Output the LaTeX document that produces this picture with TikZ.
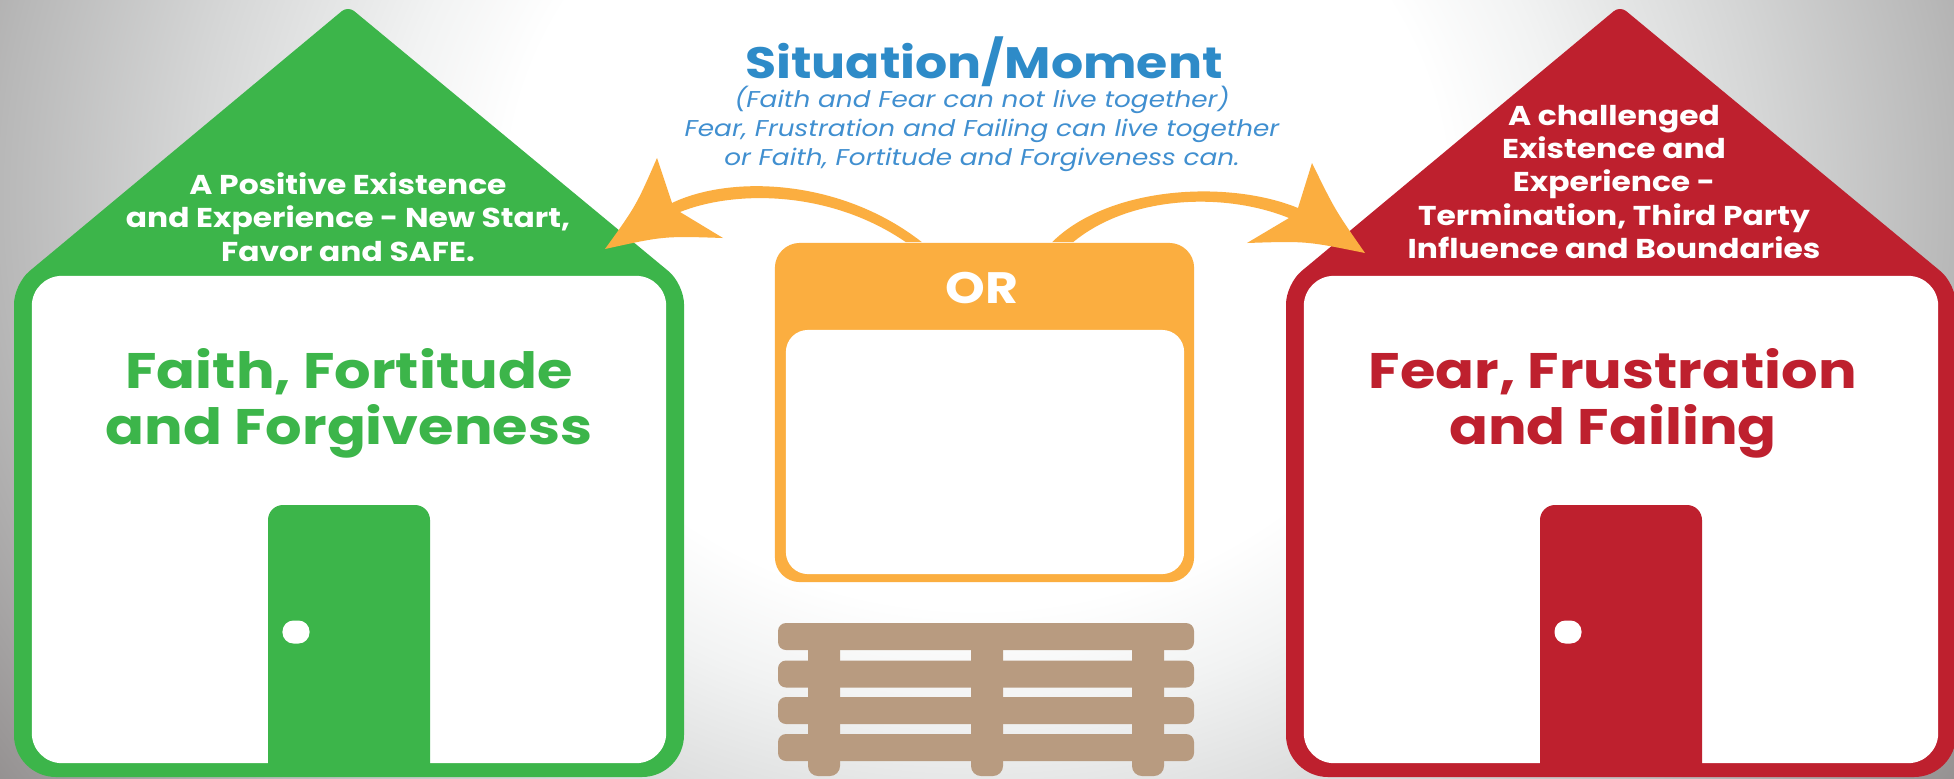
\documentclass[tikz,border=0pt]{standalone}
\usepackage{fontspec}
\setmainfont{Poppins}[FakeStretch=1.15]
\usetikzlibrary{positioning, calc}
\definecolor{hgreen}{HTML}{3CB54A}
\definecolor{hred}{HTML}{BE202E}
\definecolor{horange}{HTML}{FBAE40}
\definecolor{hbrown}{HTML}{B89B80}
\definecolor{hblue}{HTML}{2E8BC8}
\definecolor{hsub}{HTML}{408FD0}
\definecolor{glowa}{HTML}{F2F3F3}
\definecolor{glowb}{HTML}{D6D7D7}
\definecolor{glowc}{HTML}{B8B8B8}
\definecolor{glowd}{HTML}{908C8C}
\pgfdeclareradialshading{bgglow}{\pgfpoint{0bp}{0bp}}{%
  color(0bp)=(white); color(12bp)=(white); color(15bp)=(glowa);
  color(20bp)=(glowb); color(25bp)=(glowc); color(31bp)=(glowd); color(50bp)=(glowd)}
\tikzset{
  roofnote/.style={text=white, align=center, inner sep=0pt, font=\fontsize{7.75}{9.5}\selectfont\bfseries},
  housetitle/.style={align=center, inner sep=0pt, font=\fontsize{14.2}{16}\selectfont\bfseries},
  subnote/.style={text=hsub, align=center, inner sep=0pt, font=\fontsize{6.5}{8.25}\selectfont\itshape},
  panel/.style={rounded corners=0.25cm, inner sep=0pt},
  knobdot/.style={fill=white, rounded corners=0.11cm, inner sep=0pt,
                  minimum width=0.27cm, minimum height=0.23cm},
  plank/.style={fill=hbrown, rounded corners=0.08cm},
}
\begin{document}
\begin{tikzpicture}[x=0.01cm, y=-0.01cm]
  \clip (0,0) rectangle (1954,778);
  % backdrop
  \shade[shading=bgglow] (0,-650) rectangle (1954,1050);
  % houses
  \foreach \hx/\hcol in {0/hgreen, 1272/hred} {
    \begin{scope}[xshift=\hx*0.01cm]
      \fill[\hcol] (348,777) [rounded corners=0.42cm] -- (14,777) -- (14,500)
        [rounded corners=0.2cm] -- (14,284) [rounded corners=0.08cm] -- (348,6)
        [rounded corners=0.2cm] -- (684,284) -- (684,500)
        [rounded corners=0.42cm] -- (684,777) -- cycle;
      \node[fill=white, rounded corners=0.3cm, inner sep=0pt, minimum width=6.34cm,
            minimum height=4.87cm] (room\hx) at (349,519.5) {};
      \fill[\hcol] (268,770) [rounded corners=0.15cm] -- (268,505) -- (430,505)
        -- (430,600) [sharp corners] -- (430,770) -- cycle;
      \node[knobdot] (knob\hx) at (296,632) {};
    \end{scope}
  }
  % texts of the houses
  \node[roofnote] (goodnote) at (348,217)
    {A Positive Existence\\and Experience - New Start,\\Favor and SAFE.};
  \node[roofnote] (badnote) at (1614,182)
    {A challenged\\Existence and\\Experience -\\Termination, Third Party\\Influence and Boundaries};
  \node[housetitle, text=hgreen] (goodtitle) at (349,403) {Faith, Fortitude\\and Forgiveness};
  \node[housetitle, text=hred] (badtitle) at (1613,403) {Fear, Frustration\\and Failing};
  % middle
  \node[subnote] (midnote) at (982,129)
    {(Faith and Fear can not live together)\\Fear, Frustration and Failing can live together\\or Faith, Fortitude and Forgiveness can.};
  \node[text=hblue, inner sep=0pt, font=\fontsize{12.5}{16}\selectfont\bfseries] (midtitle) at (984,62) {Situation/Moment};
  \node[panel, fill=horange, minimum width=4.19cm, minimum height=3.39cm] (orbox) at (984.5,412.5) {};
  \node[panel, fill=white, rounded corners=0.22cm, minimum width=3.98cm, minimum height=2.44cm] (orroom) at (985,452) {};
  \node[text=white, inner sep=0pt, font=\fontsize{12.5}{15}\selectfont\bfseries] (ortext) at (982,288) {OR};
  % bench
  \foreach \lx in {808, 971, 1132}
    \fill[plank, rounded corners=0.1cm] (\lx,640) rectangle ++(32,136);
  \foreach \py in {623, 660.5, 697, 734}
    \fill[plank] (778,\py) rectangle (1194,\py+27);
  % arrows
  \coordinate (lefttip) at (605,249);
  \coordinate (righttip) at (1365,253);
  \fill[horange] ([xshift=-0.625cm]orbox.north) .. controls (840,178) and (730,175) .. (672,203)
    -- (657,158) .. controls (636,206) .. (lefttip)
    .. controls (664,236) .. (723,238) -- (680,212)
    .. controls (735,190) and (830,190) .. ([xshift=-0.785cm]orbox.north) -- cycle;
  \fill[horange] ([xshift=0.675cm]orbox.north) .. controls (1110,185) and (1230,180) .. (1298,208)
    -- (1312,163) .. controls (1335,210) .. (righttip)
    .. controls (1306,241) .. (1247,243) -- (1289,218)
    .. controls (1225,192) and (1130,195) .. ([xshift=0.885cm]orbox.north) -- cycle;
\end{tikzpicture}
\end{document}
